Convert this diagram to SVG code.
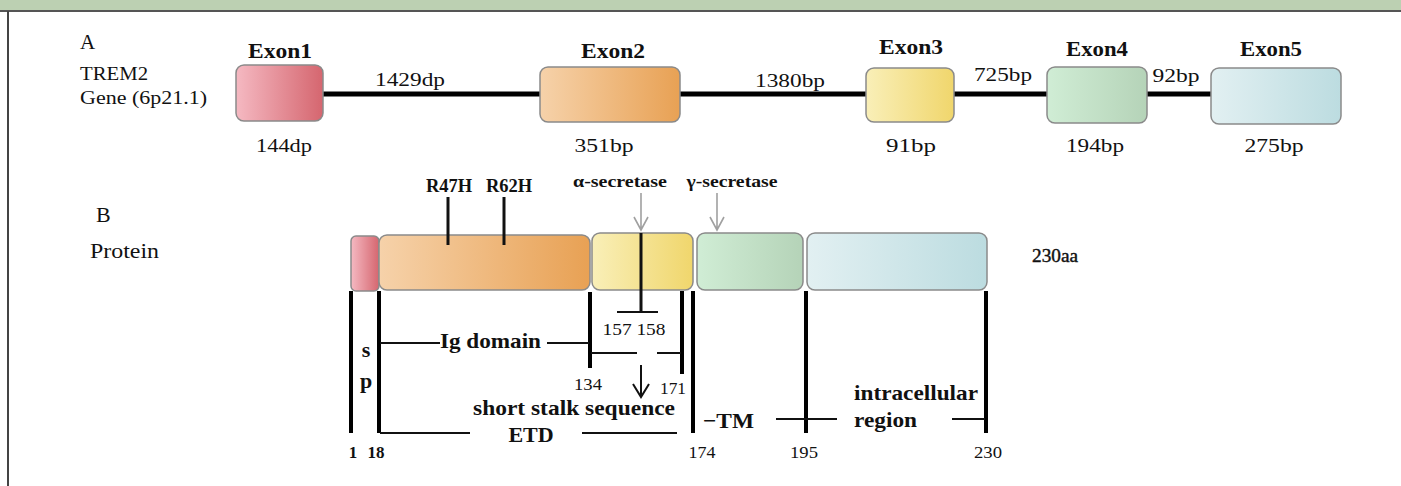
<svg xmlns="http://www.w3.org/2000/svg" width="1401" height="486" viewBox="0 0 1401 486">
<style>
text{font-family:"Liberation Serif","Times New Roman",serif;fill:#111}
.b{font-weight:bold}
.box{stroke:#8a8a8a;stroke-width:1.5}
.intron{stroke:#000;stroke-width:5;fill:none}
.thick{stroke:#000;stroke-width:4;fill:none}
.thin{stroke:#111;stroke-width:2;fill:none}
.gray{stroke:#a0a0a0;stroke-width:1.6;fill:none}
.mid{text-anchor:middle}
</style>
<defs>
<linearGradient id="gPink" x1="0" x2="1" y1="0" y2="0"><stop offset="0" stop-color="#F5B9C2"/><stop offset="1" stop-color="#D5666F"/></linearGradient>
<linearGradient id="gOrange" x1="0" x2="1" y1="0" y2="0"><stop offset="0" stop-color="#F6D2AA"/><stop offset="1" stop-color="#E8A154"/></linearGradient>
<linearGradient id="gYellow" x1="0" x2="1" y1="0" y2="0"><stop offset="0" stop-color="#F9EFB8"/><stop offset="1" stop-color="#F0D66C"/></linearGradient>
<linearGradient id="gGreen" x1="0" x2="1" y1="0" y2="0"><stop offset="0" stop-color="#D0EDD5"/><stop offset="1" stop-color="#B5D3B8"/></linearGradient>
<linearGradient id="gBlue" x1="0" x2="1" y1="0" y2="0"><stop offset="0" stop-color="#E2F0F2"/><stop offset="1" stop-color="#BCDCE0"/></linearGradient>
</defs>
<rect x="0" y="0" width="1401" height="486" fill="#fff"/>
<rect x="0" y="0" width="1401" height="10" fill="#BCD0B2"/>
<line x1="0" y1="11" x2="1401" y2="11" stroke="#555" stroke-width="2"/>
<line x1="8" y1="11" x2="8" y2="486" stroke="#444" stroke-width="2"/>

<!-- Section A -->
<g id="labelsA">
<text x="80" y="49" font-size="21">A</text>
<text x="80" y="80" font-size="19" textLength="68" lengthAdjust="spacingAndGlyphs">TREM2</text>
<text x="80" y="104" font-size="19" textLength="127" lengthAdjust="spacingAndGlyphs">Gene (6p21.1)</text>
</g>
<g id="connectors">
<line class="intron" x1="323" y1="94" x2="540" y2="94"/>
<line class="intron" x1="680" y1="94" x2="866" y2="94"/>
<line class="intron" x1="953" y1="94" x2="1047" y2="94"/>
<line class="intron" x1="1147" y1="94" x2="1211" y2="94" stroke="#141428"/>
<text class="mid" x="410" y="86" font-size="18" textLength="70" lengthAdjust="spacingAndGlyphs">1429dp</text>
<text class="mid" x="790" y="87" font-size="18" textLength="70" lengthAdjust="spacingAndGlyphs">1380bp</text>
<text class="mid" x="1003" y="81" font-size="18" textLength="58" lengthAdjust="spacingAndGlyphs">725bp</text>
<text class="mid" x="1176" y="82" font-size="18" textLength="47" lengthAdjust="spacingAndGlyphs">92bp</text>
</g>
<g id="exon1">
<rect class="box" x="236" y="65" width="87" height="56" rx="8" fill="url(#gPink)"/>
<text class="b mid" x="280" y="58" font-size="21" textLength="64" lengthAdjust="spacingAndGlyphs">Exon1</text>
<text class="mid" x="284" y="152" font-size="19" textLength="56" lengthAdjust="spacingAndGlyphs">144dp</text>
</g>
<g id="exon2">
<rect class="box" x="540" y="67" width="140" height="55" rx="8" fill="url(#gOrange)"/>
<text class="b mid" x="613" y="58" font-size="21" textLength="64" lengthAdjust="spacingAndGlyphs">Exon2</text>
<text class="mid" x="604" y="152" font-size="19" textLength="59" lengthAdjust="spacingAndGlyphs">351bp</text>
</g>
<g id="exon3">
<rect class="box" x="866" y="68" width="88" height="54" rx="8" fill="url(#gYellow)"/>
<text class="b mid" x="911" y="54" font-size="21" textLength="64" lengthAdjust="spacingAndGlyphs">Exon3</text>
<text class="mid" x="911" y="152" font-size="19" textLength="50" lengthAdjust="spacingAndGlyphs">91bp</text>
</g>
<g id="exon4">
<rect class="box" x="1047" y="67" width="100" height="56" rx="8" fill="url(#gGreen)"/>
<text class="b mid" x="1097" y="56" font-size="21" textLength="62" lengthAdjust="spacingAndGlyphs">Exon4</text>
<text class="mid" x="1095" y="152" font-size="19" textLength="58" lengthAdjust="spacingAndGlyphs">194bp</text>
</g>
<g id="exon5">
<rect class="box" x="1211" y="68" width="130" height="56" rx="8" fill="url(#gBlue)"/>
<text class="b mid" x="1271" y="56" font-size="21" textLength="62" lengthAdjust="spacingAndGlyphs">Exon5</text>
<text class="mid" x="1274" y="152" font-size="19" textLength="59" lengthAdjust="spacingAndGlyphs">275bp</text>
</g>

<!-- Section B -->
<g id="labelsB">
<text x="96" y="222" font-size="22">B</text>
<text x="90" y="258" font-size="21" textLength="69" lengthAdjust="spacingAndGlyphs">Protein</text>
<text x="1032" y="262" font-size="18" stroke="#111" stroke-width="0.4" textLength="46" lengthAdjust="spacingAndGlyphs">230aa</text>
</g>
<g id="domain-sp"><rect class="box" x="351" y="236" width="28" height="55" rx="5" fill="url(#gPink)"/></g>
<g id="domain-ig"><rect class="box" x="379" y="235" width="211" height="55" rx="8" fill="url(#gOrange)"/></g>
<g id="domain-stalk"><rect class="box" x="592" y="233" width="101" height="57" rx="8" fill="url(#gYellow)"/></g>
<g id="domain-tm"><rect class="box" x="697" y="233" width="106" height="57" rx="8" fill="url(#gGreen)"/></g>
<g id="domain-ic"><rect class="box" x="807" y="233" width="180" height="57" rx="8" fill="url(#gBlue)"/></g>

<g id="annotations">
<text class="b mid" x="449" y="192" font-size="18.5">R47H</text>
<text class="b mid" x="509" y="192" font-size="18.5">R62H</text>
<line x1="448" y1="197" x2="448" y2="245" stroke="#111" stroke-width="3"/>
<line x1="504" y1="197" x2="504" y2="245" stroke="#111" stroke-width="3"/>
<text class="b mid" x="620" y="187" font-size="17" textLength="94" lengthAdjust="spacingAndGlyphs">α-secretase</text>
<text class="b mid" x="732" y="187" font-size="17" textLength="91" lengthAdjust="spacingAndGlyphs">γ-secretase</text>
<path class="gray" d="M641 193V230M634 217L641 230L648 217"/>
<path class="gray" d="M717 193V230M710 217L717 230L724 217"/>
<line x1="641" y1="233" x2="641" y2="312" stroke="#111" stroke-width="3"/>
<line class="thin" x1="617" y1="312" x2="658" y2="312"/>
<text class="mid" x="634" y="335" font-size="16" textLength="63" lengthAdjust="spacingAndGlyphs">157 158</text>
</g>

<g id="brackets">
<line class="thick" x1="351" y1="291" x2="351" y2="433"/>
<line class="thick" x1="379" y1="291" x2="379" y2="433"/>
<line class="thick" x1="590" y1="292" x2="590" y2="368"/>
<line class="thick" x1="682" y1="291" x2="682" y2="374"/>
<line class="thick" x1="693" y1="291" x2="693" y2="433"/>
<line class="thick" x1="806" y1="291" x2="806" y2="433"/>
<line class="thick" x1="986" y1="291" x2="986" y2="433"/>
<line class="thin" x1="380" y1="343" x2="440" y2="343"/>
<line class="thin" x1="547" y1="343" x2="589" y2="343"/>
<line class="thin" x1="591" y1="353" x2="637" y2="353"/>
<line class="thin" x1="657" y1="353" x2="681" y2="353"/>
<line class="thin" x1="380" y1="433" x2="470" y2="433"/>
<line class="thin" x1="582" y1="433" x2="677" y2="433"/>
<line class="thin" x1="776" y1="419" x2="837" y2="419"/>
<line class="thin" x1="952" y1="419" x2="985" y2="419"/>
<path class="thin" d="M641 365V397M633 384L641 397L649 384"/>
</g>

<g id="bracket-labels">
<text class="b" x="440" y="348" font-size="22" textLength="101" lengthAdjust="spacingAndGlyphs">Ig domain</text>
<text class="b mid" x="366" y="357" font-size="22">s</text>
<text class="b mid" x="366" y="388" font-size="22">p</text>
<text class="mid" x="588" y="390" font-size="16" textLength="28" lengthAdjust="spacingAndGlyphs">134</text>
<text class="mid" x="673" y="394" font-size="16" textLength="26" lengthAdjust="spacingAndGlyphs">171</text>
<text class="b mid" x="574" y="415" font-size="22" textLength="202" lengthAdjust="spacingAndGlyphs">short stalk sequence</text>
<text class="b mid" x="531" y="442" font-size="22">ETD</text>
<text class="b" x="703" y="428" font-size="22" textLength="51" lengthAdjust="spacingAndGlyphs">−TM</text>
<text class="b" x="854" y="400" font-size="22" textLength="124" lengthAdjust="spacingAndGlyphs">intracellular</text>
<text class="b" x="854" y="427" font-size="22" textLength="63" lengthAdjust="spacingAndGlyphs">region</text>
<text class="b mid" x="353" y="458" font-size="17">1</text>
<text class="b mid" x="376" y="458" font-size="17">18</text>
<text class="mid" x="702" y="458" font-size="17" textLength="27" lengthAdjust="spacingAndGlyphs">174</text>
<text class="mid" x="804" y="458" font-size="17" textLength="28" lengthAdjust="spacingAndGlyphs">195</text>
<text class="mid" x="988" y="458" font-size="17" textLength="28" lengthAdjust="spacingAndGlyphs">230</text>
</g>
</svg>
